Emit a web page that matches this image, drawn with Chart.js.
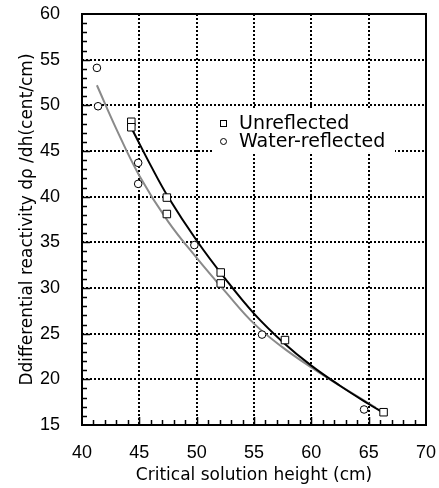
<!DOCTYPE html>
<html>
<head>
<meta charset="utf-8">
<script src="https://cdn.jsdelivr.net/npm/chart.js@4.4.0/dist/chart.umd.min.js"></script>
<style>
  body { margin: 0; background: #fff; }
</style>
</head>
<body>
<canvas id="chart" width="439" height="488"></canvas>
<script>
// measured points
var unreflH = [44.3, 44.3, 47.4, 47.4, 52.1, 52.1, 57.7, 66.3];
var unreflRho = [48.2, 47.6, 39.9, 38.1, 31.7, 30.5, 24.3, 16.4];
var waterH = [41.3, 41.4, 44.9, 44.9, 49.8, 55.7, 64.6];
var waterRho = [54.1, 49.9, 43.7, 41.4, 34.7, 24.9, 16.7];

// fitted curves
var unreflFitH = [44.4, 46, 47.5, 50, 52.5, 55, 57.5, 60, 62.5, 65, 66.2];
var unreflFitRho = [47.3, 43.4, 40.0, 35.2, 31.0, 27.2, 24.1, 21.5, 19.3, 17.3, 16.4];
var waterFitH = [41.3, 43, 45, 47.5, 50, 52.5, 55, 57.5, 60, 62.5, 65.6];
var waterFitRho = [52.2, 47.4, 42.3, 37.3, 33.3, 29.6, 26.1, 23.5, 21.3, 19.3, 16.9];

var xTicks = [40, 45, 50, 55, 60, 65, 70];
var yTicks = [15, 20, 25, 30, 35, 40, 45, 50, 55, 60];

function pairs(xs, ys) {
  return xs.map(function (x, i) { return { x: x, y: ys[i] }; });
}

var FONT = "'Liberation Sans', Arial, sans-serif";
var TITLE_FONT = "'DejaVu Sans', sans-serif";

// frame, inward minor ticks and the legend box
var decorations = {
  id: "decorations",
  beforeDatasetsDraw: function (chart) {
    var ctx = chart.ctx, a = chart.chartArea;
    var xs = chart.scales.x, ys = chart.scales.y;
    ctx.save();
    ctx.strokeStyle = "#000";
    ctx.lineWidth = 1.5;
    ctx.beginPath();
    for (var v = xs.min + 1; v < xs.max; v++) {
      var px = Math.round(xs.getPixelForValue(v)) + 0.5;
      var len = v % 5 === 0 ? 8 : 5;
      ctx.moveTo(px, a.bottom);
      ctx.lineTo(px, a.bottom - len);
    }
    for (var w = ys.min + 1; w < ys.max; w++) {
      var py = Math.round(ys.getPixelForValue(w)) + 0.5;
      var l2 = w % 5 === 0 ? 8 : 5;
      ctx.moveTo(a.left, py);
      ctx.lineTo(a.left + l2, py);
    }
    ctx.stroke();
    ctx.lineWidth = 2;
    ctx.strokeRect(a.left, a.top, a.right - a.left, a.bottom - a.top);
    ctx.restore();
  },
  afterDatasetsDraw: function (chart) {
    var ctx = chart.ctx;
    ctx.save();
    ctx.fillStyle = "#fff";
    ctx.fillRect(213, 108, 182, 45);
    ctx.strokeStyle = "#000";
    ctx.lineWidth = 1;
    ctx.strokeRect(220.5, 120.5, 6, 6);
    ctx.beginPath();
    ctx.arc(223.5, 141.5, 3, 0, Math.PI * 2);
    ctx.stroke();
    ctx.fillStyle = "#000";
    ctx.font = "19px 'DejaVu Sans', sans-serif";
    ctx.textBaseline = "middle";
    ctx.fillText(chart.data.datasets[0].label, 239, 124);
    ctx.fillText(chart.data.datasets[1].label, 239, 142);
    ctx.restore();
  }
};

var ctx = document.getElementById("chart").getContext("2d");
var chart = new Chart(ctx, {
  type: "scatter",
  data: {
    datasets: [
      {
        label: "Unreflected",
        data: pairs(unreflH, unreflRho),
        pointStyle: "rect",
        pointRadius: 5.3,
        pointBackgroundColor: "#fff",
        pointBorderColor: "#000",
        pointBorderWidth: 1,
      },
      {
        label: "Water-reflected",
        data: pairs(waterH, waterRho),
        pointStyle: "circle",
        pointRadius: 3.8,
        pointBackgroundColor: "#fff",
        pointBorderColor: "#000",
        pointBorderWidth: 1,
      },
      {
        label: "Unreflected fit",
        data: pairs(unreflFitH, unreflFitRho),
        showLine: true,
        pointRadius: 0,
        borderColor: "#000",
        borderWidth: 2,
        tension: 0.4,
      },
      {
        label: "Water-reflected fit",
        data: pairs(waterFitH, waterFitRho),
        showLine: true,
        pointRadius: 0,
        borderColor: "#8a8a8a",
        borderWidth: 2,
        tension: 0.4,
      },
    ],
  },
  options: {
    responsive: false,
    animation: false,
    layout: { padding: { top: 14, right: 13, left: 0, bottom: 0 } },
    plugins: {
      legend: { display: false },
      tooltip: { enabled: false },
    },
    scales: {
      x: {
        min: 40,
        max: 70,
        afterFit: function (scale) {
          scale.height = 63;
          scale.paddingLeft = 0;
          scale.paddingRight = 0;
        },
        afterBuildTicks: function (scale) {
          scale.ticks = xTicks.map(function (v) { return { value: v }; });
        },
        grid: { color: "#000", lineWidth: 2, drawTicks: false },
        border: { display: false, dash: [2, 2] },
        ticks: { color: "#000", padding: 17, font: { family: FONT, size: 18 } },
        title: {
          display: true,
          text: "Critical solution height (cm)",
          color: "#000",
          font: { family: TITLE_FONT, size: 17, lineHeight: 1.2 },
          padding: { top: 0, bottom: 2 },
        },
      },
      y: {
        min: 15,
        max: 60,
        afterFit: function (scale) {
          scale.width = 82;
          scale.paddingTop = 0;
          scale.paddingBottom = 0;
        },
        afterBuildTicks: function (scale) {
          scale.ticks = yTicks.map(function (v) { return { value: v }; });
        },
        grid: { color: "#000", lineWidth: 2, drawTicks: false },
        border: { display: false, dash: [2, 2] },
        ticks: { color: "#000", padding: 22, font: { family: FONT, size: 18 } },
        title: {
          display: true,
          text: "Ddifferential reactivity dρ /dh(cent/cm)",
          color: "#000",
          font: { family: TITLE_FONT, size: 17, lineHeight: 1.2 },
          padding: { top: 17, bottom: 0 },
        },
      },
    },
  },
  plugins: [decorations],
});
</script>
</body>
</html>
